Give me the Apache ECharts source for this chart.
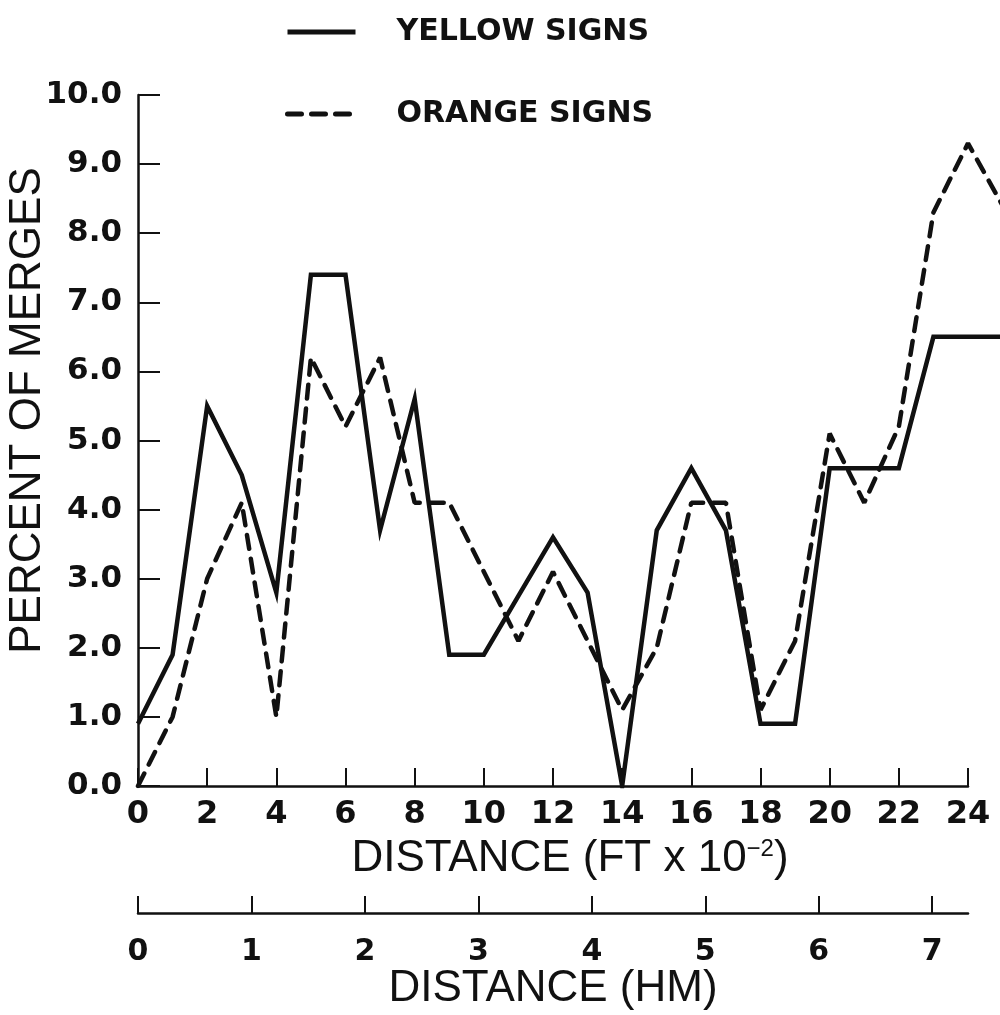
<!DOCTYPE html>
<html>
<head>
<meta charset="utf-8">
<script src="https://cdn.jsdelivr.net/npm/echarts@6/dist/echarts.min.js"></script>
<style>
  html, body { margin: 0; padding: 0; background: #fff; }
  #chart { width: 1000px; height: 1015px; }
</style>
</head>
<body>
<div id="chart"></div>
<script>
// distance in FT x 10^-2
const distanceFt = [0, 1, 2, 3, 4, 5, 6, 7, 8, 9, 10, 11, 12, 13, 14, 15, 16, 17, 18, 19, 20, 21, 22, 23, 24, 25];
// percent of merges
const yellowSigns = [0.9, 1.9, 5.5, 4.5, 2.8, 7.4, 7.4, 3.7, 5.6, 1.9, 1.9, 2.75, 3.6, 2.8, 0.0, 3.7, 4.6, 3.7, 0.9, 0.9, 4.6, 4.6, 4.6, 6.5, 6.5, 6.5];
const orangeSigns = [0.0, 1.0, 3.0, 4.1, 1.0, 6.2, 5.2, 6.2, 4.1, 4.1, 3.1, 2.1, 3.1, 2.1, 1.1, 2.0, 4.1, 4.1, 1.1, 2.1, 5.1, 4.1, 5.2, 8.3, 9.3, 8.4];
const seriesNames = ['YELLOW SIGNS', 'ORANGE SIGNS'];

const FT_MAX = 24;
const HM_PER_FT100 = 0.3048; // 100 ft = 0.3048 hm

const W = 1000;
const LEFT = 138, RIGHT = 32, TOP = 95, BOTTOM = 229;
// the plotted lines run on past 24 to the picture's right edge
const FT_EDGE = FT_MAX * (W - LEFT) / (W - LEFT - RIGHT);

const ink = '#111';
const tickFont = 'DejaVu Sans';
const nameFont = 'Liberation Sans';

const chart = echarts.init(document.getElementById('chart'));

chart.setOption({
  animation: false,
  backgroundColor: '#fff',
  legend: {
    data: seriesNames,
    orient: 'vertical',
    left: 280,
    top: 12,
    itemWidth: 68,
    itemHeight: 20,
    itemGap: 52,
    itemStyle: { opacity: 0 },
    lineStyle: { width: 5 },
    textStyle: {
      color: ink,
      fontFamily: tickFont,
      fontWeight: 'bold',
      fontSize: 30,
      padding: [0, 0, 0, 36]
    }
  },
  grid: [
    { left: LEFT, right: RIGHT, top: TOP, bottom: BOTTOM, outerBoundsMode: 'none' },
    { left: LEFT, right: RIGHT, top: 912, height: 1, outerBoundsMode: 'none' },
    { left: LEFT, right: 0, top: TOP, bottom: BOTTOM, outerBoundsMode: 'none' }
  ],
  xAxis: [
    {
      type: 'value',
      gridIndex: 0,
      min: 0,
      max: FT_MAX,
      interval: 2,
      splitLine: { show: false },
      axisLine: { lineStyle: { color: ink, width: 2.5 } },
      axisTick: { inside: true, length: 18, lineStyle: { color: ink, width: 2 } },
      axisLabel: {
        margin: 13,
        color: ink,
        fontFamily: tickFont,
        fontWeight: 'bold',
        fontSize: 32
      },
      name: '{a|DISTANCE (FT x 10}{s|−2}{a|)}',
      nameLocation: 'middle',
      nameGap: 51,
      nameMoveOverlap: false,
      nameTextStyle: {
        padding: [0, 0, 0, 34],
        rich: {
          a: { fontFamily: nameFont, fontSize: 44, color: ink },
          s: { fontFamily: nameFont, fontSize: 24, color: ink, verticalAlign: 'top' }
        }
      }
    },
    {
      type: 'value',
      gridIndex: 1,
      min: 0,
      max: FT_MAX * HM_PER_FT100,
      interval: 1,
      splitLine: { show: false },
      axisLine: { onZero: false, lineStyle: { color: ink, width: 2.5 } },
      axisTick: { inside: true, length: 17, lineStyle: { color: ink, width: 2 } },
      axisLabel: {
        margin: 24,
        color: ink,
        fontFamily: tickFont,
        fontWeight: 'bold',
        fontSize: 30,
        showMaxLabel: false
      },
      name: 'DISTANCE (HM)',
      nameLocation: 'middle',
      nameGap: 54,
      nameMoveOverlap: false,
      nameTextStyle: { fontFamily: nameFont, fontSize: 44, color: ink }
    },
    { type: 'value', gridIndex: 2, min: 0, max: FT_EDGE, show: false }
  ],
  yAxis: [
    {
      type: 'value',
      gridIndex: 0,
      min: 0,
      max: 10,
      interval: 1,
      splitLine: { show: false },
      axisLine: { show: true, lineStyle: { color: ink, width: 2.5 } },
      axisTick: { show: true, inside: true, length: 22, lineStyle: { color: ink, width: 2 } },
      axisLabel: {
        margin: 16,
        color: ink,
        fontFamily: tickFont,
        fontWeight: 'bold',
        fontSize: 31,
        formatter: v => v.toFixed(1)
      },
      name: 'PERCENT OF MERGES',
      nameLocation: 'middle',
      nameGap: 88,
      nameMoveOverlap: false,
      nameTextStyle: {
        fontFamily: nameFont,
        fontSize: 44,
        color: ink,
        padding: [0, 0, 0, 60]
      }
    },
    { type: 'value', gridIndex: 1, show: false, min: 0, max: 1 },
    { type: 'value', gridIndex: 2, show: false, min: 0, max: 10 }
  ],
  series: [
    {
      name: seriesNames[0],
      type: 'line',
      xAxisIndex: 2,
      yAxisIndex: 2,
      data: distanceFt.map((d, i) => [d, yellowSigns[i]]),
      symbol: 'none',
      lineStyle: { color: ink, width: 4.5, join: 'miter' },
      itemStyle: { color: ink }
    },
    {
      name: seriesNames[1],
      type: 'line',
      xAxisIndex: 2,
      yAxisIndex: 2,
      data: distanceFt.map((d, i) => [d, orangeSigns[i]]),
      symbol: 'none',
      lineStyle: { color: ink, width: 4.5, type: [14, 10], cap: 'round' },
      itemStyle: { color: ink }
    }
  ]
});

window.addEventListener('resize', () => chart.resize());
</script>
</body>
</html>
